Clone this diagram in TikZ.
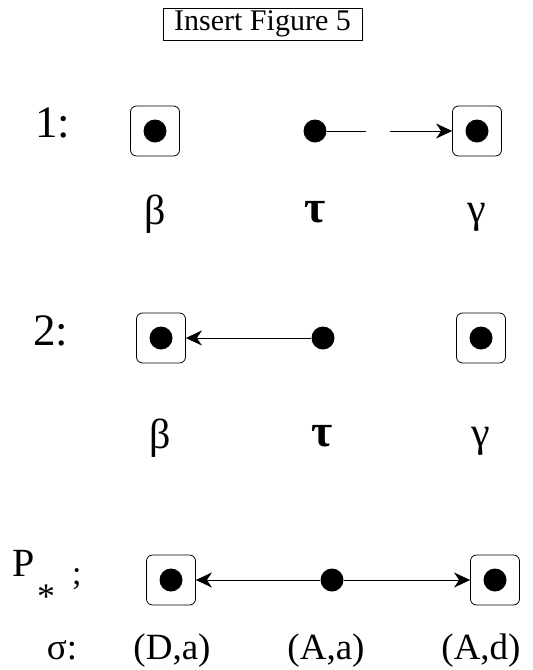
\documentclass[tikz,border=0pt]{standalone}
\usepackage{fontspec}
\setmainfont{Liberation Serif}
\usetikzlibrary{arrows.meta}
\newcommand{\fs}[1]{\fontsize{#1}{#1}\selectfont}
\begin{document}
\begin{tikzpicture}[x=1pt,y=-1pt,
  statebox/.style={draw, line width=0.8pt, rounded corners=6pt, minimum width=49pt, minimum height=50pt, inner sep=0pt},
  dot/.style={circle, fill=black, minimum size=23pt, inner sep=0pt},
  edge/.style={line width=0.9pt},
  arr/.style={edge, -{Stealth[length=16pt, width=15pt, inset=5pt]}},
  rowlabel/.style={anchor=base west, inner sep=0pt, font=\fs{45}},
  greek/.style={inner sep=0pt, font=\fs{42}},
  taulabel/.style={inner sep=0pt, font=\fs{46}\bfseries},
  pair/.style={anchor=base, inner sep=0pt, font=\fs{37}}]
\useasboundingbox (0,0) rectangle (533,670);

% heading
\node[draw, line width=1pt, minimum width=199pt, minimum height=32pt, inner sep=0pt, font=\fs{30}] (title) at (262.5,24) {Insert Figure 5};

% row 1
\node[rowlabel] (l1) at (35,137) {1:};
\node[statebox] (b1) at (155,131) {};
\node[dot] (b1d) at (155,131) {};
\node[dot] (t1) at (315,131) {};
\node[statebox] (c1) at (477,131) {};
\node[dot] (c1d) at (477,131) {};
\coordinate (g1a) at (366,131);
\coordinate (g1b) at (390,131);
\draw[edge] (t1) -- (g1a);
\draw[arr] (g1b) -- (c1);
\node[greek] (beta1) at (155,214) {β};
\node[taulabel] (tau1) at (315,212) {τ};
\node[greek] (gam1) at (477,217) {γ};

% row 2
\node[rowlabel] (l2) at (33,345) {2:};
\node[statebox] (b2) at (161,338) {};
\node[dot] (b2d) at (161,338) {};
\node[dot] (t2) at (323,338) {};
\node[statebox] (c2) at (481,338) {};
\node[dot] (c2d) at (481,338) {};
\draw[arr] (t2) -- (b2);
\node[greek] (beta2) at (160,438) {β};
\node[taulabel] (tau2) at (322,436) {τ};
\node[greek] (gam2) at (481,441) {γ};

% row 3
\node[anchor=base west, inner sep=0pt, font=\fs{40}] (l3) at (12,576) {P};
\node[inner sep=0pt, font=\fs{36}] (l3s) at (46,597) {*};
\node[anchor=base west, inner sep=0pt, font=\fs{34}] (l3c) at (72,584) {;};
\node[statebox] (b3) at (171,580) {};
\node[dot] (b3d) at (171,580) {};
\node[dot] (t3) at (332,580) {};
\node[statebox] (c3) at (495,580) {};
\node[dot] (c3d) at (495,580) {};
\draw[arr] (t3) -- (b3);
\draw[arr] (t3) -- (c3);

% sigma row
\node[pair] (sig) at (62,659) {σ:};
\node[pair] (s1) at (172,659) {(D,a)};
\node[pair] (s2) at (326,659) {(A,a)};
\node[pair] (s3) at (481,659) {(A,d)};
\end{tikzpicture}
\end{document}
